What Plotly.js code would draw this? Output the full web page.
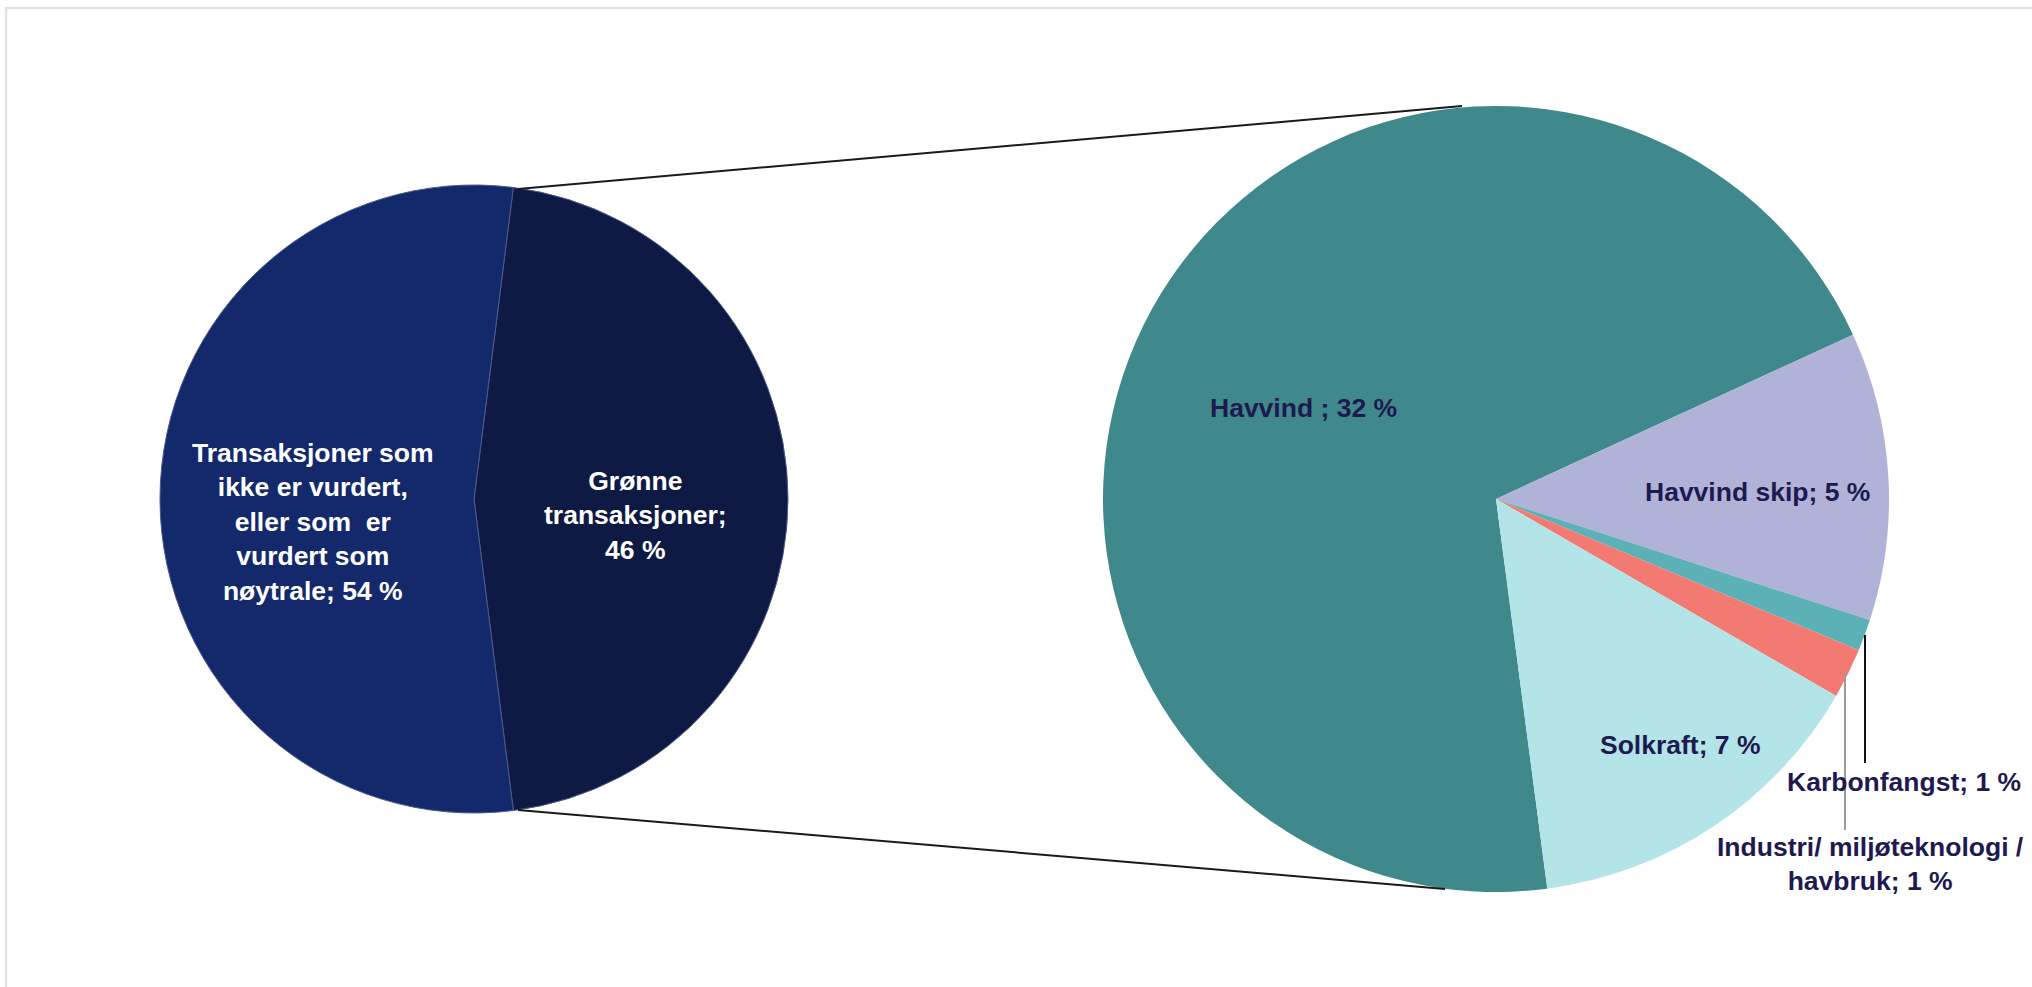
<!DOCTYPE html>
<html>
<head>
<meta charset="utf-8">
<script src="https://cdn.plot.ly/plotly-3.0.1.min.js"></script>
<style>html,body{margin:0;padding:0;background:#fff;}#chart{width:2032px;height:987px;}</style>
</head>
<body>
<div id="chart"></div>
<script>
// ---- data ----
const mainLabels = ["Grønne transaksjoner", "Transaksjoner som ikke er vurdert, eller som  er vurdert som nøytrale"];
const mainValues = [46, 54];
const mainText = ["Grønne<br>transaksjoner;<br>46 %", "Transaksjoner som<br>ikke er vurdert,<br>eller som  er<br>vurdert som<br>nøytrale; 54 %"];
const mainColors = ["#0e1a43", "#14296c"];

const greenLabels = ["Havvind", "Havvind skip", "Karbonfangst", "Industri/ miljøteknologi / havbruk", "Solkraft"];
const greenValues = [32.3, 5.45, 0.6, 0.95, 6.7];
const greenText = ["Havvind ; 32 %", "Havvind skip; 5 %", "Karbonfangst; 1 %", "Industri/ miljøteknologi /<br>havbruk; 1 %", "Solkraft; 7 %"];
const greenColors = ["#3f898c", "#b0b2d8", "#5bb1b5", "#f27a72", "#b3e4e7"];

// ---- layout helpers (pixel -> paper) ----
const W = 2032, H = 987;
const px = x => x / W;
const py = y => 1 - y / H;

const traces = [
  {
    type: 'pie', labels: mainLabels, values: mainValues, sort: false,
    direction: 'clockwise', rotation: 7.2, textinfo: 'none', hoverinfo: 'none',
    marker: {colors: mainColors, line: {color: '#4a5a8a', width: 1}},
    domain: {x: [px(474 - 314), px(474 + 314)], y: [py(499 + 314), py(499 - 314)]},
    showlegend: false
  },
  {
    type: 'pie', labels: greenLabels, values: greenValues, sort: false,
    direction: 'clockwise', rotation: 172.5, textinfo: 'none', hoverinfo: 'none',
    marker: {colors: greenColors, line: {width: 0}},
    domain: {x: [px(1496 - 393), px(1496 + 393)], y: [py(499 + 393), py(499 - 393)]},
    showlegend: false
  }
];

const lblFont = (c) => ({family: 'Liberation Sans, Arial, sans-serif', size: 26.5, color: c, weight: 'bold'});
const navy = '#1e1a50';
function ann(text, x, y, color, xanchor) {
  return {text: '<b>' + text + '</b>', x: px(x), y: py(y), xref: 'paper', yref: 'paper',
    showarrow: false, xanchor: xanchor || 'center', yanchor: 'middle', align: 'center', font: lblFont(color)};
}
const annotations = [
  ann(mainText[1], 313, 522, '#ffffff'),
  ann(mainText[0], 635, 515, '#ffffff'),
  ann(greenText[0], 1303, 408, navy),
  ann(greenText[1], 1757, 492, navy),
  ann(greenText[2], 1785, 782, navy, 'left'),
  ann(greenText[3], 1870, 864, navy),
  ann(greenText[4], 1680, 745, navy)
];

function line(x0, y0, x1, y1, color, width) {
  return {type: 'line', xref: 'paper', yref: 'paper', x0: px(x0), y0: py(y0), x1: px(x1), y1: py(y1),
    line: {color: color, width: width}};
}
const shapes = [
  {type: 'rect', xref: 'paper', yref: 'paper', x0: px(6), y0: py(1010), x1: px(2050), y1: py(8),
    line: {color: '#e2e2e2', width: 2.5}, fillcolor: 'rgba(0,0,0,0)'},
  line(518, 189, 1462, 106, '#1a1a1a', 2),
  line(518, 810, 1445, 889, '#1a1a1a', 2),
  line(1865, 635, 1865, 763, '#111111', 2),
  line(1845, 673, 1845, 830, '#9a9a9a', 2)
];

const layout = {
  width: W, height: H, margin: {l: 0, r: 0, t: 0, b: 0},
  paper_bgcolor: '#ffffff', plot_bgcolor: '#ffffff',
  showlegend: false, annotations: annotations, shapes: shapes
};
Plotly.newPlot('chart', traces, layout, {displayModeBar: false, staticPlot: true});
</script>
</body>
</html>
